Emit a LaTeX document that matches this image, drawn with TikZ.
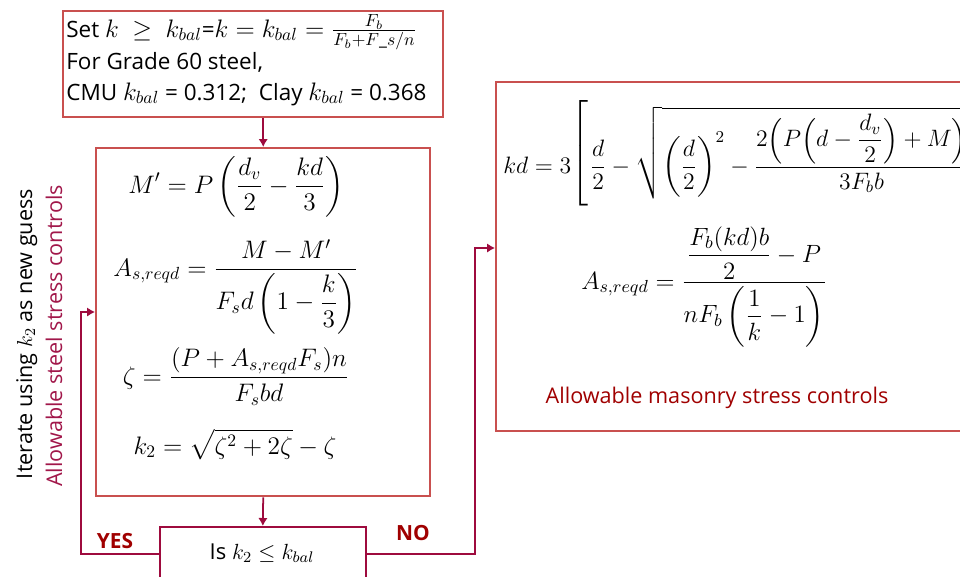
\RequirePackage{fix-cm}
\documentclass[tikz,border=0pt]{standalone}
\usepackage{amsmath}
\usepackage[no-math]{fontspec}
\setmainfont{Open Sans}
\usetikzlibrary{arrows.meta,positioning}
\definecolor{boxred}{HTML}{C9504F}
\definecolor{crimson}{HTML}{9E0B3E}
\definecolor{darkred}{HTML}{A00000}
\definecolor{steelred}{HTML}{A1174A}
\newcommand{\bigmath}[1]{{\fontsize{14.4}{17}\selectfont$#1$}}
\newcommand{\tallbrack}[2]{\raisebox{0.58em}{$\displaystyle\left#1\vrule height 2.5em depth 2.0em width 0pt\right#2$}}
\tikzset{
  stepbox/.style={draw=boxred, line width=1.4pt, fill=white, inner sep=0pt, anchor=north west},
  decbox/.style={draw=crimson, line width=1pt, fill=white, inner sep=0pt, anchor=north west},
  ar/.style={-{Latex[length=1.6mm,width=1.9mm]}, line width=1pt, draw=crimson},
  eqn/.style={font=\fontsize{14.4}{17}\selectfont, inner sep=0pt, anchor=base},
  txt/.style={font=\fontsize{12.8}{15}\selectfont, inner sep=0pt, anchor=base west},
  lbl/.style={font=\fontsize{12.3}{15}\selectfont, inner sep=0pt, anchor=base},
  yn/.style={font=\fontsize{11.9}{14}\selectfont\bfseries, text=darkred, inner sep=0pt, anchor=base},
}

\begin{document}
\begin{tikzpicture}[x=0.02cm, y=-0.02cm]
  \path[use as bounding box, clip] (0,0) rectangle (960,576);

  \node[stepbox, minimum width=7.6cm, minimum height=2.12cm] (setk) at (62,10) {};
  \node[stepbox, minimum width=6.68cm, minimum height=6.96cm] (calc) at (95,147) {};
  \node[stepbox, minimum width=9.8cm, minimum height=6.98cm] (kdbox) at (495,81) {};
  \node[decbox, minimum width=4.12cm, minimum height=1.08cm] (dec) at (159,526) {};

  \coordinate (yesup) at (81,312);
  \coordinate (noup) at (475,248);
  \draw[ar] (calc.north |- setk.south) -- (calc.north);
  \draw[ar] (calc.south) -- (dec.north);
  \draw[ar] (dec.west) -| (yesup) -- (calc.west |- yesup);
  \draw[ar] (dec.east) -| (noup) -- (kdbox.west |- noup);

  \node[txt] (line1) at (66,37) {Set \bigmath{k\ \geq\ k_{bal}}=\bigmath{k=k_{bal}=\frac{F_b}{F_b+F\_s/n}}};
  \node[txt] (line2) at (66,69) {For Grade 60 steel,};
  \node[txt] (line3) at (66,100) {CMU \bigmath{k_{bal}} = 0.312;\ \ Clay \bigmath{k_{bal}} = 0.368};

  \node[eqn] (mprime) at (236,193) {$\displaystyle M' = P\left(\frac{d_v}{2} - \frac{kd}{3}\right)$};
  \node[eqn] (asreq) at (236,276) {$\displaystyle A_{s,reqd} = \frac{M-M'}{F_s d\left(1-\dfrac{k}{3}\right)}$};
  \node[eqn] (zeta) at (236,384) {$\displaystyle \zeta = \frac{(P + A_{s,reqd}F_s)n}{F_s bd}$};
  \node[eqn] (ktwo) at (235,454) {$\displaystyle k_2 = \sqrt{\zeta^2 + 2\zeta} - \zeta$};

  \node[eqn, anchor=base west, font=\fontsize{13.5}{16}\selectfont] (kdeq) at (503,173) {$\displaystyle kd = 3\tallbrack[.\frac{d}{2} - \sqrt{\left(\frac{d}{2}\right)^2 - \frac{2\Bigl(P\Bigl(d-\dfrac{d_v}{2}\Bigr)+M\Bigr)}{3F_b b}\,}\;\tallbrack.]$};
  \node[eqn, font=\fontsize{14.2}{17}\selectfont] (asmas) at (704,289) {$\displaystyle A_{s,reqd} = \frac{\dfrac{F_b(kd)b}{2} - P}{nF_b\left(\dfrac{1}{k}-1\right)}$};
  \node[lbl, text=darkred] (masonry) at (717,403) {Allowable masonry stress controls};

  \node[eqn, font=\fontsize{12.5}{15}\selectfont] (check) at (262,559) {Is $k_2 \leq k_{bal}$};
  \node[yn] (yes) at (115,548) {YES};
  \node[yn] (no) at (413,540) {NO};

  \node[lbl, rotate=90] (iter) at (32,334) {Iterate using $k_2$ as new guess};
  \node[lbl, rotate=90, text=steelred] (steel) at (62,336) {Allowable steel stress controls};
\end{tikzpicture}
\end{document}
